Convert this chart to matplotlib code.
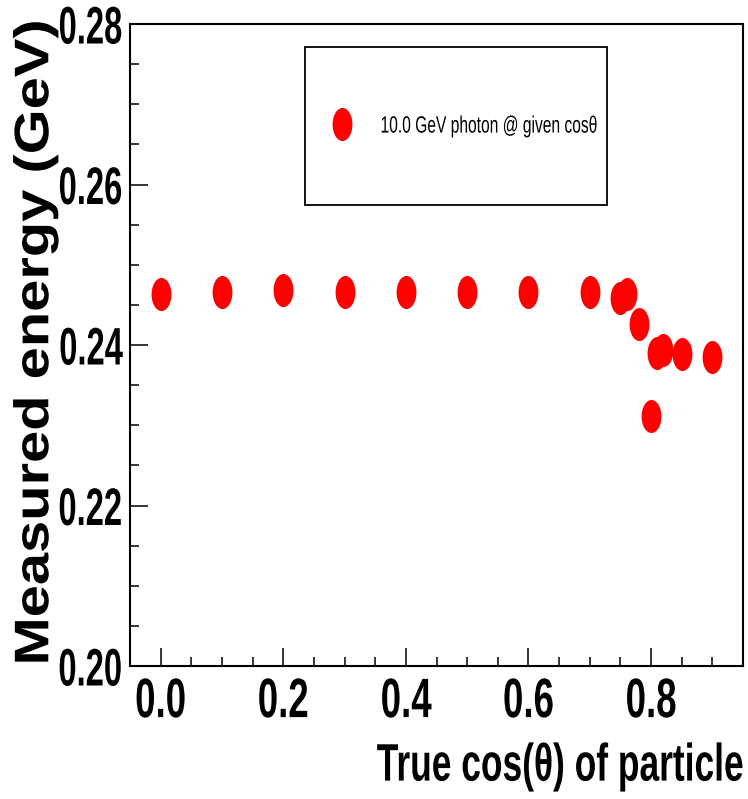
"""
Measured energy vs true cos(theta) for 10 GeV photons (ROOT-style canvas).
Writes out.png (748x799).
"""
import matplotlib
matplotlib.use("Agg")
import matplotlib.pyplot as plt
import matplotlib.ticker as mticker
from matplotlib.patches import Rectangle
from matplotlib.path import Path
from matplotlib.patheffects import AbstractPathEffect
from matplotlib.transforms import Affine2D

FONT = ["Liberation Sans", "DejaVu Sans"]
RED = "#ff0000"

# ---------- Data ----------
cos_theta = [0.00, 0.10, 0.20, 0.30, 0.40, 0.50, 0.60, 0.70,
             0.75, 0.76, 0.78, 0.80, 0.81, 0.82, 0.85, 0.90]
energy = [0.2464, 0.2466, 0.2468, 0.2466, 0.2466, 0.2466, 0.2466, 0.2466,
          0.2458, 0.2464, 0.2426, 0.2312, 0.2390, 0.2394, 0.2389, 0.2385]

x_major = [0.0, 0.2, 0.4, 0.6, 0.8]
y_major = [0.20, 0.22, 0.24, 0.26, 0.28]
legend_label = "10.0 GeV photon @ given cos\u03b8"
x_title = "True cos(\u03b8) of particle"
y_title = "Measured energy (GeV)"


class Squeeze(AbstractPathEffect):
    """The ROOT canvas was stretched tall, so glyphs look narrow.
    Rescale the text outline about an anchor on its ink box."""

    def __init__(self, sx=1.0, sy=1.0, hx="center", vy="center"):
        super().__init__()
        self.sx, self.sy, self.hx, self.vy = sx, sy, hx, vy

    def draw_path(self, renderer, gc, tpath, affine, rgbFace=None):
        v = tpath.vertices
        if tpath.codes is not None:
            v = v[tpath.codes != Path.CLOSEPOLY]
        v = affine.transform(v)
        x0, x1 = v[:, 0].min(), v[:, 0].max()
        y0, y1 = v[:, 1].min(), v[:, 1].max()
        cx = {"left": x0, "center": (x0 + x1) / 2, "right": x1}[self.hx]
        cy = {"bottom": y0, "center": (y0 + y1) / 2, "top": y1}[self.vy]
        squeeze = (Affine2D().translate(-cx, -cy)
                   .scale(self.sx, self.sy).translate(cx, cy))
        renderer.draw_path(gc, tpath, affine + squeeze, rgbFace)


plt.rcParams["font.family"] = FONT

fig = plt.figure(figsize=(7.48, 7.99), dpi=100)
fig.patch.set_facecolor("white")
# frame: x 130..743 px, y 24..666 px
ax = fig.add_axes([130 / 748, 133 / 799, 613 / 748, 642 / 799])

# tall ellipse marker (circle squashed by the canvas stretch)
ellipse = Path.unit_circle().transformed(Affine2D().scale(0.6, 1.0))
ax.plot(cos_theta, energy, linestyle="none", marker=ellipse, markersize=23.8,
        color=RED, markeredgewidth=0, label=legend_label, zorder=3)

ax.set_xlim(-0.05, 0.95)
ax.set_ylim(0.20, 0.28)
ax.set_xticks(x_major)
ax.set_yticks(y_major)
ax.xaxis.set_minor_locator(mticker.MultipleLocator(0.05))
ax.yaxis.set_minor_locator(mticker.MultipleLocator(0.005))
ax.xaxis.set_major_formatter(mticker.FormatStrFormatter("%.1f"))
ax.yaxis.set_major_formatter(mticker.FormatStrFormatter("%.2f"))

for s in ax.spines.values():
    s.set_linewidth(1.5)
    s.set_color("black")
ax.tick_params(which="both", direction="in", top=False, right=False,
               width=1.1, color="black")
ax.tick_params(which="major", length=13)
ax.tick_params(which="minor", length=6.5)
ax.tick_params(axis="x", which="major", labelsize=40, pad=8)
ax.tick_params(axis="y", which="major", labelsize=38, pad=5)

for lab in ax.get_xticklabels():
    lab.set_fontweight("bold")
    lab.set_path_effects([Squeeze(0.66, hx="center")])
for lab in ax.get_yticklabels():
    lab.set_fontweight("bold")
    lab.set_path_effects([Squeeze(0.62, hx="right")])

# axis titles (ROOT puts them at the far end of each axis)
ax.set_xlabel(x_title, loc="right", fontsize=38, fontweight="bold", labelpad=9,
              path_effects=[Squeeze(0.67, hx="right")])
ax.set_ylabel(y_title, loc="top", fontsize=35, fontweight="bold",
              path_effects=[Squeeze(1.0, 1.19, vy="top")])
ax.yaxis.set_label_coords(-0.117, 1.006)

# legend: marker + text, framed by a plain box like TLegend
leg = ax.legend(loc="center left", bbox_to_anchor=(0.3268, 0.841),
                frameon=False, borderpad=0, borderaxespad=0,
                handlelength=1.0, handletextpad=1.1, numpoints=1,
                prop={"family": FONT, "size": 17})
for t in leg.get_texts():
    t.set_path_effects([Squeeze(0.66, hx="left")])
ax.add_patch(Rectangle((0.2856, 0.7181), 0.4929, 0.2461, transform=ax.transAxes,
                       fill=False, edgecolor="black", linewidth=1.3, zorder=4))

fig.savefig("out.png", dpi=100, facecolor="white")
